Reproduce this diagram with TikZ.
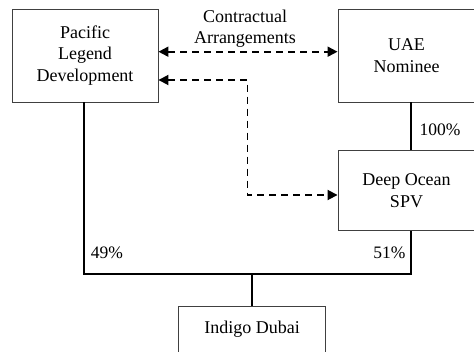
\documentclass[tikz,border=0pt]{standalone}
\usepackage{fontspec}
\setmainfont{Liberation Serif}
\usepackage{tikz}
\usetikzlibrary{positioning}
\usetikzlibrary{arrows.meta}
\tikzset{
	entity/.style={draw=black!75, line width=0.9pt, rectangle, align=center, font=\fontsize{18}{21.7}\selectfont},
	owns/.style={line width=1.7pt},
	contract/.style={line width=1.8pt, dash pattern=on 7pt off 5pt, {Triangle[length=10pt,width=10pt]}-{Triangle[length=10pt,width=10pt]}},
	share/.style={font=\fontsize{17.5}{21}\selectfont}
}

\begin{document}
\begin{tikzpicture}[x=1pt,y=-1pt]
					\useasboundingbox (0,0) rectangle (474,351);
					
					\node[entity, minimum width=146pt, minimum height=93pt] (pld) at (85.,55.5) {Pacific\\Legend\\Development};
					\node[entity, minimum width=137pt, minimum height=93pt] (uae) at (406.5,55.5) {UAE\\Nominee};
					\node[entity, minimum width=137pt, minimum height=80pt] (dos) at (406.5,190.7) {Deep Ocean\\SPV};
					\node[entity, minimum width=147pt, minimum height=46pt] (ind) at (252.2,329.3) {Indigo Dubai};
					
					\coordinate (jl) at (84.,273.7);
					\coordinate (jr) at (411.,273.7);
					
					\draw[owns] (uae.south -| jr) -- (dos.north -| jr);
					\draw[owns] (dos.south -| jr) -- (jr) -- (jl) -- (pld.south -| jl);
					\draw[owns] (ind.north) -- (ind.north |- jl);
					
					\draw[contract] ([yshift=3.8pt]pld.east) -- ([yshift=3.8pt]uae.west);
					\draw[contract] ([yshift=-24.5pt]pld.east) -- ++(89.,0) |- ([yshift=-4.3pt]dos.west);
					
					\node[align=center, font=\fontsize{18}{21}\selectfont, inner sep=0pt] (ca) at (245.,29.) {Contractual\\Arrangements};
					
					\node[share, inner sep=0pt] (p100) at (440.,130.) {100\%};
					\node[share, inner sep=0pt] (p49) at (107.,252.7) {49\%};
					\node[share, inner sep=0pt] (p51) at (389.4,252.7) {51\%};
				\end{tikzpicture}
\end{document}
